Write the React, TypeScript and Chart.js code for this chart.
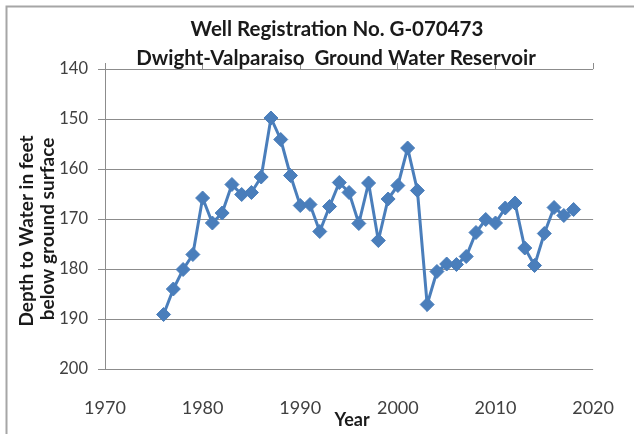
import React, { useEffect, useRef } from 'react';
import { Chart, registerables } from 'chart.js';

Chart.register(...registerables);

const years = [
  1976, 1977, 1978, 1979, 1980, 1981, 1982, 1983, 1984, 1985, 1986, 1987, 1988, 1989,
  1990, 1991, 1992, 1993, 1994, 1995, 1996, 1997, 1998, 1999, 2000, 2001, 2002, 2003,
  2004, 2005, 2006, 2007, 2008, 2009, 2010, 2011, 2012, 2013, 2014, 2015, 2016, 2017, 2018,
];
const depth = [
  189.1, 184.0, 180.1, 177.1, 165.8, 170.8, 168.8, 163.1, 165.1, 164.7, 161.6, 149.8, 154.1, 161.3,
  167.3, 167.1, 172.5, 167.5, 162.7, 164.7, 170.9, 162.8, 174.3, 166.0, 163.3, 155.8, 164.3, 187.1,
  180.5, 179.0, 179.1, 177.5, 172.7, 170.1, 170.8, 167.8, 166.8, 175.8, 179.3, 172.9, 167.7, 169.3, 168.1,
];
const xTicks = [1970, 1980, 1990, 2000, 2010, 2020];
const yTicks = [140, 150, 160, 170, 180, 190, 200];
const titleLines = ['Well Registration No. G-070473', 'Dwight-Valparaiso  Ground Water Reservoir'];
const yTitleLines = ['Depth to Water in feet', 'below ground surface'];
const xTitle = 'Year';

const FONT = 'Lato, "Open Sans", sans-serif';
const LINE = '#4A7EBB';
const GRID = '#8c8c8c';
const LABEL = '#404040';
const TITLE = '#1a1a1a';

export default function App() {
  const ref = useRef<HTMLCanvasElement>(null);

  useEffect(() => {
    document.body.style.margin = '0';
    const canvas = ref.current;
    if (!canvas) return;

    const drawRotated = (ctx: any, text: string, x: number, y: number) => {
      ctx.save();
      ctx.translate(x, y);
      ctx.rotate(-Math.PI / 2);
      ctx.fillText(text, 0, 0);
      ctx.restore();
    };

    const textPlugin = {
      id: 'texts',
      beforeDraw(chart: any) {
        const ctx = chart.ctx;
        ctx.save();
        ctx.fillStyle = '#ffffff';
        ctx.fillRect(0, 0, chart.width, chart.height);
        ctx.strokeStyle = '#a6a6a6';
        ctx.lineWidth = 2;
        ctx.strokeRect(6.5, 6.5, chart.width + 20, chart.height + 20);
        ctx.restore();
      },
      afterDraw(chart: any) {
        const ctx = chart.ctx;
        const area = chart.chartArea;
        ctx.save();
        ctx.fillStyle = TITLE;
        ctx.textAlign = 'center';
        ctx.textBaseline = 'middle';
        ctx.font = `bold 20.5px ${FONT}`;
        ctx.fillText(titleLines[0], 337, 29);
        ctx.fillText(titleLines[1], 336, 58);

        ctx.font = `bold 18px ${FONT}`;
        ctx.fillText(xTitle, (area.left + area.right) / 2 + 3, 420);

        ctx.font = `bold 19px ${FONT}`;
        drawRotated(ctx, yTitleLines[0], 27, 231);
        drawRotated(ctx, yTitleLines[1], 48, 229);
        ctx.restore();
      },
    };

    const chart = new Chart(canvas, {
      type: 'line',
      data: {
        datasets: [
          {
            data: years.map((yr, i) => ({ x: yr, y: depth[i] })),
            borderColor: LINE,
            backgroundColor: LINE,
            borderWidth: 3,
            pointStyle: 'rectRot',
            pointRadius: 7,
            pointBorderWidth: 1,
            pointBackgroundColor: LINE,
            pointBorderColor: LINE,
            tension: 0,
          },
        ],
      },
      options: {
        responsive: false,
        animation: false,
        events: [],
        layout: { padding: { top: 63, right: 29, left: 0, bottom: 0 } },
        plugins: {
          legend: { display: false },
          title: { display: false },
          tooltip: { enabled: false },
        },
        scales: {
          x: {
            type: 'linear',
            position: 'bottom',
            min: 1970,
            max: 2020,
            afterBuildTicks: (s: any) => {
              s.ticks = xTicks.map((v) => ({ value: v }));
            },
            ticks: {
              callback: (v: any) => String(v),
              font: { family: FONT, size: 18 },
              color: LABEL,
              padding: 20,
              maxRotation: 0,
            },
            grid: { display: false },
            border: { display: false },
            afterFit: (s: any) => {
              s.height = 65;
            },
          },
          x2: {
            type: 'linear',
            axis: 'x',
            position: 'top',
            min: 1970,
            max: 2020,
            afterBuildTicks: (s: any) => {
              s.ticks = xTicks.map((v) => ({ value: v }));
            },
            ticks: { display: false },
            grid: { drawOnChartArea: false, tickLength: 6, color: GRID },
            border: { display: false },
            afterFit: (s: any) => {
              s.height = 6;
            },
          },
          y: {
            type: 'linear',
            reverse: true,
            min: 140,
            max: 200,
            afterBuildTicks: (s: any) => {
              s.ticks = yTicks.map((v) => ({ value: v }));
            },
            ticks: {
              callback: (v: any) => String(v),
              font: { family: FONT, size: 16.5 },
              color: LABEL,
              padding: 10,
            },
            grid: { color: GRID, tickLength: 7, lineWidth: 1 },
            border: { display: true, color: GRID, width: 1 },
            afterFit: (s: any) => {
              s.width = 105;
            },
          },
        },
      },
      plugins: [textPlugin],
    });

    return () => chart.destroy();
  }, []);

  return (
    <div style={{ width: 634, height: 434 }}>
      <canvas ref={ref} width={634} height={434} style={{ display: 'block' }} />
    </div>
  );
}
